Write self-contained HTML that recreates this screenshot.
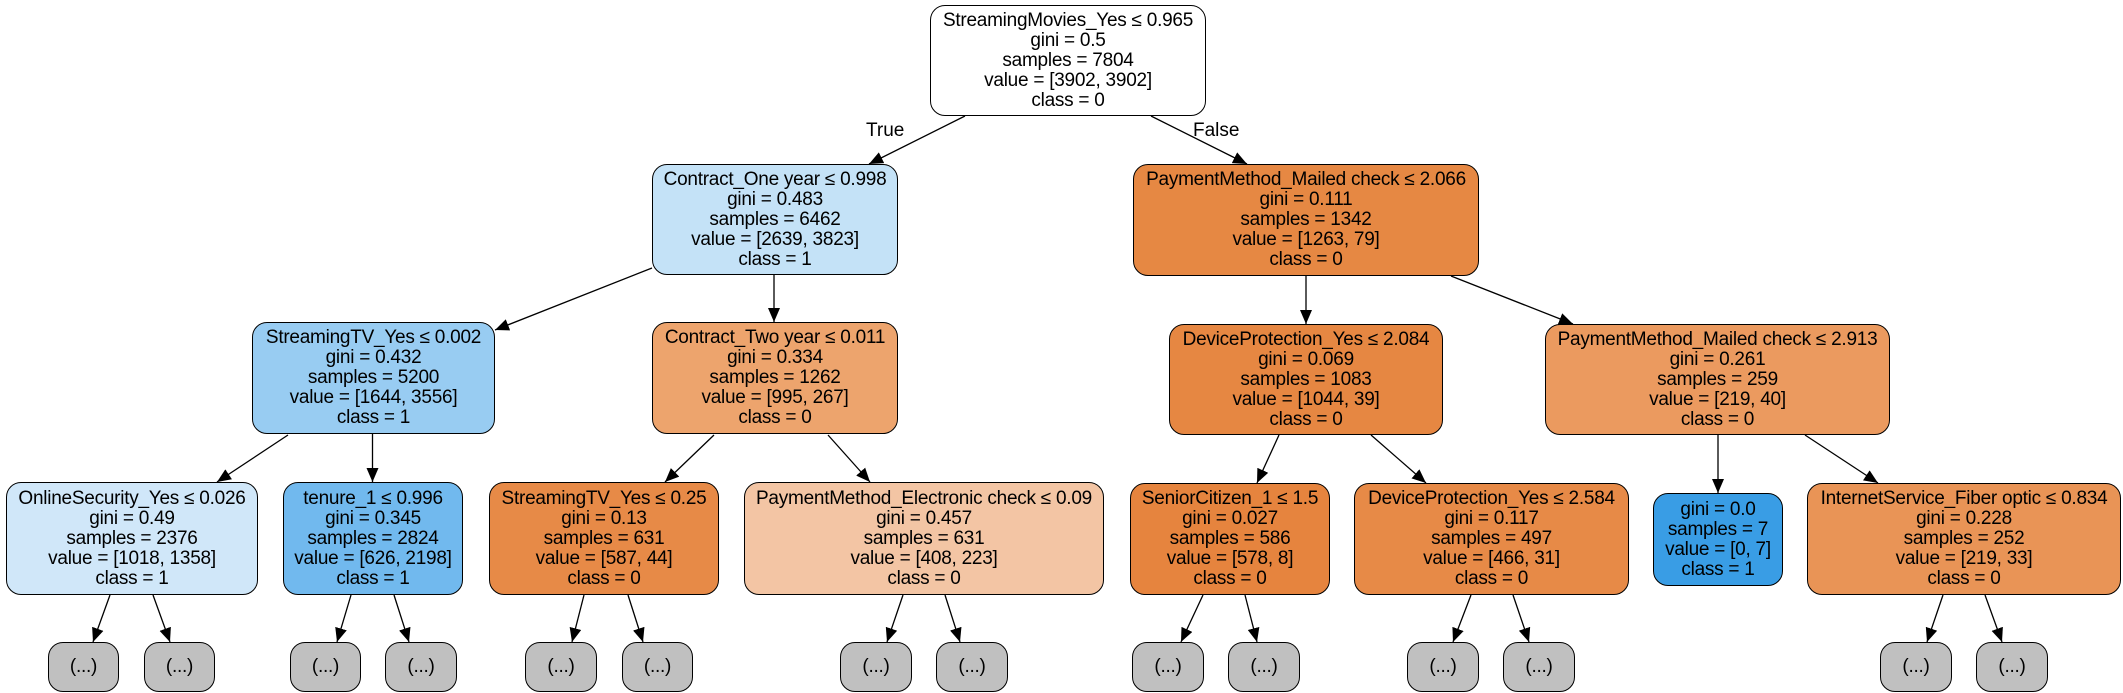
<!DOCTYPE html>
<html><head><meta charset="utf-8"><style>
body{margin:0;width:2123px;height:693px;background:#fff;position:relative;overflow:hidden;font-family:"Liberation Sans",Arial,sans-serif;}
.n{position:absolute;box-sizing:border-box;border:1.4px solid #000;border-radius:15px;display:flex;flex-direction:column;justify-content:center;align-items:center;font-size:19px;line-height:20px;color:#000;white-space:nowrap;letter-spacing:-0.25px}
.l{background:#c0c0c0}
svg{position:absolute;left:0;top:0}
.t{position:absolute;font-size:19px}
</style></head><body>
<svg width="2123" height="693">
<defs><marker id="a" markerUnits="userSpaceOnUse" markerWidth="14" markerHeight="12" refX="14" refY="6" orient="auto"><path d="M0,0 L14,6 L0,12 z" fill="#000"/></marker></defs>
<g stroke="#000" stroke-width="1.3" marker-end="url(#a)">
<line x1="965" y1="116" x2="869" y2="164"/>
<line x1="1151" y1="116" x2="1247" y2="164"/>
<line x1="652" y1="268" x2="495" y2="330"/>
<line x1="774" y1="275" x2="774" y2="322"/>
<line x1="288" y1="435" x2="217" y2="482"/>
<line x1="372.5" y1="434" x2="372.5" y2="482"/>
<line x1="714" y1="435" x2="665" y2="482"/>
<line x1="828" y1="435" x2="870" y2="482"/>
<line x1="110" y1="595" x2="93" y2="642"/>
<line x1="153" y1="595" x2="170" y2="642"/>
<line x1="351" y1="595" x2="337" y2="642"/>
<line x1="394" y1="595" x2="409" y2="642"/>
<line x1="584" y1="595" x2="572" y2="642"/>
<line x1="628" y1="595" x2="643" y2="642"/>
<line x1="903" y1="595" x2="887" y2="642"/>
<line x1="945" y1="595" x2="960" y2="642"/>
<line x1="1306" y1="276" x2="1306" y2="324"/>
<line x1="1451" y1="276" x2="1573" y2="324"/>
<line x1="1279" y1="435" x2="1257" y2="483"/>
<line x1="1371" y1="435" x2="1426" y2="483"/>
<line x1="1718" y1="435" x2="1718" y2="493"/>
<line x1="1805" y1="435" x2="1878" y2="483"/>
<line x1="1203" y1="595" x2="1181" y2="642"/>
<line x1="1245" y1="595" x2="1257" y2="642"/>
<line x1="1471" y1="595" x2="1453" y2="642"/>
<line x1="1513" y1="595" x2="1529" y2="642"/>
<line x1="1943" y1="595" x2="1927" y2="642"/>
<line x1="1985" y1="595" x2="2002" y2="642"/>
</g></svg>
<div class="t" style="left:866px;top:120px">True</div>
<div class="t" style="left:1193px;top:120px">False</div>

<div class="n" style="left:930px;top:5px;width:276px;height:111px;background:#fff"><div>StreamingMovies_Yes ≤ 0.965</div><div>gini = 0.5</div><div>samples = 7804</div><div>value = [3902, 3902]</div><div>class = 0</div></div>

<div class="n" style="left:652px;top:164px;width:246px;height:111px;background:#c4e2f7"><div>Contract_One year ≤ 0.998</div><div>gini = 0.483</div><div>samples = 6462</div><div>value = [2639, 3823]</div><div>class = 1</div></div>
<div class="n" style="left:1133px;top:164px;width:346px;height:112px;background:#e68843"><div>PaymentMethod_Mailed check ≤ 2.066</div><div>gini = 0.111</div><div>samples = 1342</div><div>value = [1263, 79]</div><div>class = 0</div></div>

<div class="n" style="left:252px;top:322px;width:243px;height:112px;background:#98ccf2"><div>StreamingTV_Yes ≤ 0.002</div><div>gini = 0.432</div><div>samples = 5200</div><div>value = [1644, 3556]</div><div>class = 1</div></div>
<div class="n" style="left:652px;top:322px;width:246px;height:112px;background:#eda46d"><div>Contract_Two year ≤ 0.011</div><div>gini = 0.334</div><div>samples = 1262</div><div>value = [995, 267]</div><div>class = 0</div></div>
<div class="n" style="left:1169px;top:324px;width:274px;height:111px;background:#e68742"><div>DeviceProtection_Yes ≤ 2.084</div><div>gini = 0.069</div><div>samples = 1083</div><div>value = [1044, 39]</div><div>class = 0</div></div>
<div class="n" style="left:1545px;top:324px;width:345px;height:111px;background:#eb9a5f"><div>PaymentMethod_Mailed check ≤ 2.913</div><div>gini = 0.261</div><div>samples = 259</div><div>value = [219, 40]</div><div>class = 0</div></div>

<div class="n" style="left:6px;top:482px;width:252px;height:113px;background:#d0e7f9"><div>OnlineSecurity_Yes ≤ 0.026</div><div>gini = 0.49</div><div>samples = 2376</div><div>value = [1018, 1358]</div><div>class = 1</div></div>
<div class="n" style="left:283px;top:482px;width:180px;height:113px;background:#71b9ee"><div>tenure_1 ≤ 0.996</div><div>gini = 0.345</div><div>samples = 2824</div><div>value = [626, 2198]</div><div>class = 1</div></div>
<div class="n" style="left:489px;top:482px;width:230px;height:113px;background:#e78a47"><div>StreamingTV_Yes ≤ 0.25</div><div>gini = 0.13</div><div>samples = 631</div><div>value = [587, 44]</div><div>class = 0</div></div>
<div class="n" style="left:744px;top:482px;width:360px;height:113px;background:#f3c5a4"><div>PaymentMethod_Electronic check ≤ 0.09</div><div>gini = 0.457</div><div>samples = 631</div><div>value = [408, 223]</div><div>class = 0</div></div>
<div class="n" style="left:1130px;top:483px;width:200px;height:112px;background:#e6843e"><div>SeniorCitizen_1 ≤ 1.5</div><div>gini = 0.027</div><div>samples = 586</div><div>value = [578, 8]</div><div>class = 0</div></div>
<div class="n" style="left:1354px;top:483px;width:275px;height:112px;background:#e78a47"><div>DeviceProtection_Yes ≤ 2.584</div><div>gini = 0.117</div><div>samples = 497</div><div>value = [466, 31]</div><div>class = 0</div></div>
<div class="n" style="left:1653px;top:493px;width:130px;height:93px;background:#399de5"><div>gini = 0.0</div><div>samples = 7</div><div>value = [0, 7]</div><div>class = 1</div></div>
<div class="n" style="left:1807px;top:483px;width:314px;height:112px;background:#e99456"><div>InternetService_Fiber optic ≤ 0.834</div><div>gini = 0.228</div><div>samples = 252</div><div>value = [219, 33]</div><div>class = 0</div></div>

<div class="n l" style="left:48px;top:642px;width:71px;height:50px">(...)</div>
<div class="n l" style="left:144px;top:642px;width:71px;height:50px">(...)</div>
<div class="n l" style="left:290px;top:642px;width:71px;height:50px">(...)</div>
<div class="n l" style="left:385px;top:642px;width:72px;height:50px">(...)</div>
<div class="n l" style="left:525px;top:642px;width:72px;height:50px">(...)</div>
<div class="n l" style="left:622px;top:642px;width:71px;height:50px">(...)</div>
<div class="n l" style="left:840px;top:642px;width:72px;height:50px">(...)</div>
<div class="n l" style="left:936px;top:642px;width:72px;height:50px">(...)</div>
<div class="n l" style="left:1132px;top:642px;width:72px;height:50px">(...)</div>
<div class="n l" style="left:1228px;top:642px;width:72px;height:50px">(...)</div>
<div class="n l" style="left:1407px;top:642px;width:72px;height:50px">(...)</div>
<div class="n l" style="left:1503px;top:642px;width:72px;height:50px">(...)</div>
<div class="n l" style="left:1880px;top:642px;width:72px;height:50px">(...)</div>
<div class="n l" style="left:1976px;top:642px;width:72px;height:50px">(...)</div>
</body></html>
